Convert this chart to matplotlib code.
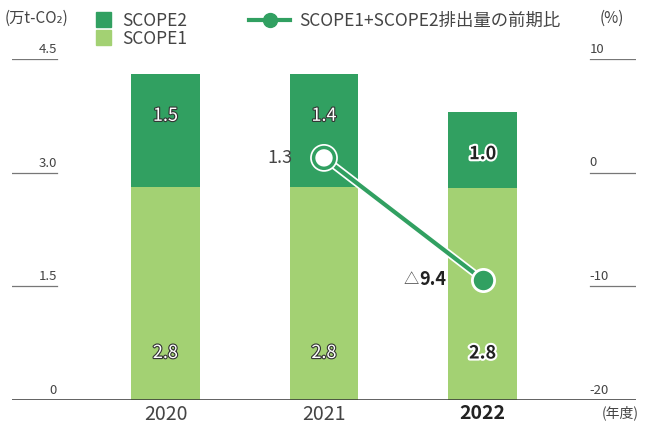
import matplotlib.pyplot as plt
import matplotlib.patheffects as pe
from matplotlib.lines import Line2D
from matplotlib.patches import Patch
import matplotlib.transforms as mtransforms

plt.rcParams['font.family'] = ['Noto Sans CJK JP', 'DejaVu Sans']

years = ['2020', '2021', '2022']
scope1 = [2.81, 2.81, 2.80]
scope2 = [1.49, 1.49, 1.00]
scope1_labels = ['2.8', '2.8', '2.8']
scope2_labels = ['1.5', '1.4', '1.0']
yoy_years = [1, 2]
yoy = [1.3, -9.4]
yoy_labels = ['1.3', '△', '9.4']
left_ticks = [0, 1.5, 3.0, 4.5]
left_tick_labels = ['0', '1.5', '3.0', '4.5']
right_ticks = [-20, -10, 0, 10]
right_tick_labels = ['-20', '-10', '0', '10']

dark = '#31a061'
light = '#a3d173'
txt = '#444444'

fig = plt.figure(figsize=(6.48, 4.25), dpi=100)
ax = fig.add_axes([12 / 648, 25 / 425, 624 / 648, 341 / 425])
ax.set_xlim(-0.968, 2.968)
ax.set_ylim(0, 4.5)
ax.axis('off')
ax2 = ax.twinx()
ax2.set_ylim(-20, 10)
ax2.axis('off')

x = list(range(len(years)))
ax.bar(x, scope1, width=0.435, color=light, zorder=2)
ax.bar(x, scope2, width=0.435, bottom=scope1, color=dark, zorder=2)

# tick lines and labels
tr = mtransforms.blended_transform_factory(ax.transAxes, ax.transData)
for t, lab in zip(left_ticks, left_tick_labels):
    if t > 0:
        ax.axhline(t, xmin=0, xmax=0.072, color='#777777', lw=0.9)
    ax.text(0.072, t + 0.04, lab, transform=tr, ha='right', va='bottom', fontsize=9.5,
            color=txt)
tr2 = mtransforms.blended_transform_factory(ax2.transAxes, ax2.transData)
for t, lab in zip(right_ticks, right_tick_labels):
    if t > -20:
        ax2.axhline(t, xmin=0.926, xmax=1, color='#777777', lw=0.9)
    ax2.text(0.926, t + 0.3, lab, transform=tr2, ha='left', va='bottom', fontsize=9.5,
             color=txt)
ax.axhline(0, color='#333333', lw=1.8, zorder=3)

# bar value labels
for i in x:
    if i == 2:
        style = dict(color='#222222', fontweight='bold',
                     path_effects=[pe.withStroke(linewidth=3, foreground='white')])
    else:
        style = dict(color='white',
                     path_effects=[pe.withStroke(linewidth=1.6, foreground='#333333')])
    ax.text(i, 0.62, scope1_labels[i], ha='center', va='center', fontsize=13, zorder=5, **style)
    ax.text(i, scope1[i] + scope2[i] - 0.55, scope2_labels[i],
            ha='center', va='center', fontsize=13, zorder=5, **style)

# year-on-year line
ax2.plot(yoy_years, yoy, color=dark, lw=3, zorder=6,
         path_effects=[pe.Stroke(linewidth=5.5, foreground='white'), pe.Normal()])
ax2.plot(yoy_years[0], yoy[0], 'o', ms=15, mfc='white', mec=dark, mew=2.5, zorder=7,
         path_effects=[pe.withStroke(linewidth=5, foreground='white')])
ax2.plot(yoy_years[1], yoy[1], 'o', ms=16, mfc=dark, mec='white', mew=2, zorder=7)
ax2.text(yoy_years[0] - 0.2, yoy[0], yoy_labels[0], ha='right', va='center',
         fontsize=13, color=txt, zorder=8)
ax2.text(yoy_years[1] - 0.23, yoy[1], yoy_labels[2], ha='right', va='center',
         fontsize=13, color='#222222', fontweight='bold', zorder=8)
ax2.text(yoy_years[1] - 0.40, yoy[1], yoy_labels[1], ha='right', va='center',
         fontsize=11, color=txt, zorder=8)

# x labels
for i, y in enumerate(years):
    ax.text(i, -0.05, y, ha='center', va='top', fontsize=14, color='#222222' if i == 2 else txt,
            fontweight='bold' if i == 2 else 'normal')
fig.text(620 / 648, 1 - 413 / 425, '(年度)', ha='center', va='center', fontsize=10, color=txt)

# header texts and legend
fig.text(5 / 648, 1 - 18 / 425, '(万t-CO₂)', ha='left', va='center', fontsize=11, color=txt)
fig.text(612 / 648, 1 - 18 / 425, '(%)', ha='center', va='center', fontsize=11, color=txt)
handles = [Patch(color=dark), Patch(color=light)]
fig.legend(handles, ['SCOPE2', 'SCOPE1'], loc='upper left', bbox_to_anchor=(87 / 648, 1 - 3 / 425),
           frameon=False, fontsize=12.5, handlelength=0.9, handleheight=0.9, handletextpad=0.6,
           labelspacing=0.0, labelcolor=txt, borderpad=0)
line_handle = Line2D([0], [0], color=dark, lw=3, marker='o', ms=10, mfc=dark, mec=dark)
fig.legend([line_handle], ['SCOPE1+SCOPE2排出量の前期比'], loc='upper left',
           bbox_to_anchor=(240 / 648, 1 - 3 / 425), frameon=False, fontsize=12.5,
           handlelength=2.4, handletextpad=0.5, labelcolor=txt, borderpad=0)

fig.savefig('out.png', dpi=100)
